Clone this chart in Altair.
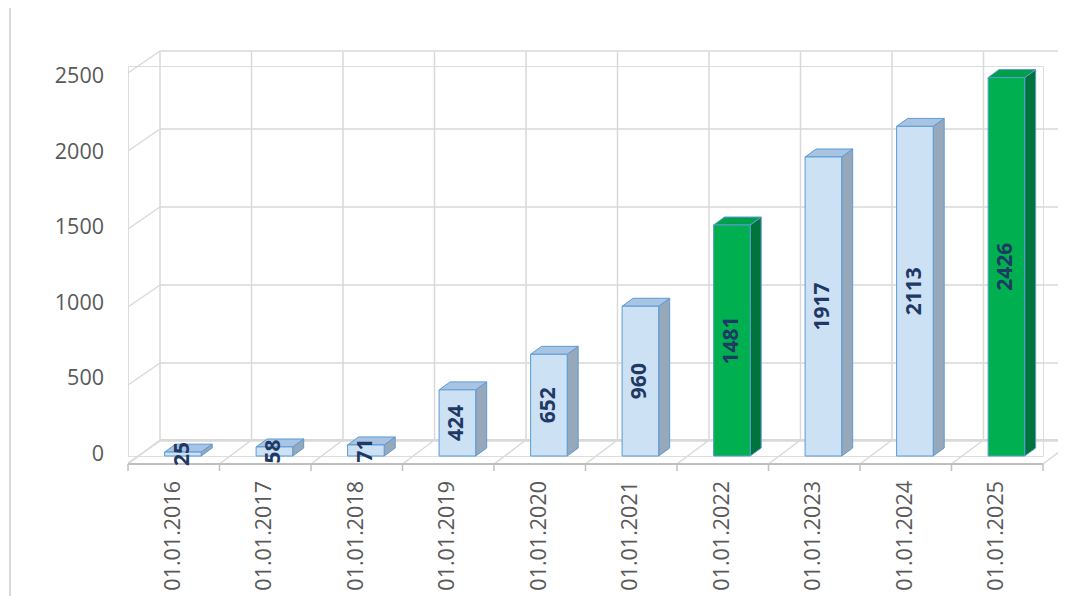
import altair as alt
import pandas as pd

categories = ["01.01.2016", "01.01.2017", "01.01.2018", "01.01.2019", "01.01.2020",
              "01.01.2021", "01.01.2022", "01.01.2023", "01.01.2024", "01.01.2025"]
values = [25, 58, 71, 424, 652, 960, 1481, 1917, 2113, 2426]
highlight = [False, False, False, False, False, False, True, False, False, True]
y_ticks = [0, 500, 1000, 1500, 2000, 2500]

BAR_L, BAR_R = 0.40, 0.80   # bar front face inside each category slot
DX, DY = 0.12, 51           # 3D depth (x units, value units)

front, side, top = [], [], []
for i, (c, v, h) in enumerate(zip(categories, values, highlight)):
    kind = "green" if h else "blue"
    front.append(dict(i=i, cat=c, v=v, base=0, kind=kind, x=i + BAR_L, x2=i + BAR_R,
                      xm=i + (BAR_L + BAR_R) / 2, xc=i + 0.5, ym=v / 2))
    side.append(dict(i=i, kind=kind, x=i + BAR_R, top=v, bot=0))
    side.append(dict(i=i, kind=kind, x=i + BAR_R + DX, top=v + DY, bot=DY))
    top.append(dict(i=i, kind=kind, y=v, xl=i + BAR_L, xr=i + BAR_R))
    top.append(dict(i=i, kind=kind, y=v + DY, xl=i + BAR_L + DX, xr=i + BAR_R + DX))

df_front = pd.DataFrame(front)
df_side = pd.DataFrame(side)
df_top = pd.DataFrame(top)
df_ticks = pd.DataFrame({"t": y_ticks})
df_bounds = pd.DataFrame({"b": list(range(len(categories) + 1))})

xs = alt.Scale(domain=[0, 10], nice=False, zero=False)
ys = alt.Scale(domain=[0, 2500], nice=False)
GRID = "#d9d9d9"
EDGE = "#5b9bd5"
FONT = "Open Sans"

def pick(green, blue):
    return alt.when(alt.datum.kind == "green").then(alt.value(green)).otherwise(alt.value(blue))

# back wall horizontal gridlines
back_grid = alt.Chart(df_ticks).mark_rule(color=GRID, strokeWidth=1.5, yOffset=-15).encode(
    y=alt.Y("t:Q", scale=ys, axis=None), x=alt.value(32), x2=alt.value(945))
# left diagonals
left_diag = alt.Chart(df_ticks).mark_rule(color=GRID, strokeWidth=1.5, yOffset=7, y2Offset=-15).encode(
    y=alt.Y("t:Q", scale=ys, axis=None), y2=alt.Y2("t:Q"), x=alt.value(0), x2=alt.value(32))
# back wall verticals
back_vert = alt.Chart(df_bounds).mark_rule(color=GRID, strokeWidth=1.5, xOffset=32).encode(
    x=alt.X("b:Q", scale=xs, axis=None), y=alt.value(374), y2=alt.value(-14))
# floor
floor_front = alt.Chart(df_ticks).mark_rule(color="#bfbfbf", strokeWidth=1.5).encode(
    x=alt.value(0), x2=alt.value(915), y=alt.value(398))
floor_back = alt.Chart(df_ticks).mark_rule(color=GRID, strokeWidth=1.5).encode(
    x=alt.value(32), x2=alt.value(945), y=alt.value(374))
floor_diag = alt.Chart(df_bounds).mark_rule(color=GRID, strokeWidth=1.5, x2Offset=32).encode(
    x=alt.X("b:Q", scale=xs, axis=None), x2=alt.X2("b:Q"), y=alt.value(398), y2=alt.value(374))
floor_ticks = alt.Chart(df_bounds).mark_rule(color="#bfbfbf", strokeWidth=1.5).encode(
    x=alt.X("b:Q", scale=xs, axis=None), y=alt.value(398), y2=alt.value(405))
page_border = alt.Chart(df_ticks).mark_rule(color=GRID, strokeWidth=1.5).encode(
    x=alt.value(-118), y=alt.value(-66), y2=alt.value(545))

# bars
bar_side = alt.Chart(df_side).mark_area(stroke=EDGE, strokeWidth=1, interpolate="linear").encode(
    x=alt.X("x:Q", scale=xs, axis=None),
    y=alt.Y("top:Q", scale=ys, axis=None), y2="bot:Q",
    detail="i:N", fill=pick("#00733a", "#97a8ba"))
bar_top = alt.Chart(df_top).mark_area(stroke=EDGE, strokeWidth=1, orient="horizontal",
                                      interpolate="linear").encode(
    y=alt.Y("y:Q", scale=ys, axis=None),
    x=alt.X("xl:Q", scale=xs, axis=None), x2="xr:Q",
    detail="i:N", fill=pick("#00a04a", "#a9c3e2"))
bar_front = alt.Chart(df_front).mark_rect(stroke=EDGE, strokeWidth=1).encode(
    x=alt.X("x:Q", scale=xs, axis=None), x2="x2:Q",
    y=alt.Y("v:Q", scale=ys, axis=None), y2="base:Q",
    fill=pick("#00b050", "#cde1f5"))
bar_labels = alt.Chart(df_front).mark_text(angle=270, fontWeight="bold", fontSize=21,
                                           font=FONT, color="#1f3864",
                                           align="center", baseline="middle").encode(
    x=alt.X("xm:Q", scale=xs, axis=None), y=alt.Y("ym:Q", scale=ys, axis=None), text="v:Q")

x_labels = alt.Chart(df_front).mark_text(angle=270, fontSize=21.5, font=FONT,
                                         color="#595959", align="right", baseline="middle").encode(
    x=alt.X("xc:Q", scale=xs, axis=None), y=alt.value(415), text="cat:N")
y_labels = alt.Chart(df_ticks).mark_text(fontSize=21.5, font=FONT, color="#595959",
                                         align="right", baseline="middle").encode(
    x=alt.value(-24),
    y=alt.Y("t:Q", scale=alt.Scale(domain=[0, 2500], nice=False, range=[389, 11]), axis=None),
    text="t:Q")

chart = alt.layer(
    page_border, back_grid, back_vert, left_diag, floor_back, floor_diag, floor_front, floor_ticks,
    bar_side, bar_top, bar_front, bar_labels, x_labels, y_labels
).resolve_scale(y="independent").properties(
    width=915, height=390,
    autosize=alt.AutoSizeParams(type="none"),
    padding={"left": 120, "top": 58, "right": 15, "bottom": 140},
).configure_view(stroke=None).configure(background="white")

chart.save("out.html", embed_options={"renderer": "svg", "actions": False})
